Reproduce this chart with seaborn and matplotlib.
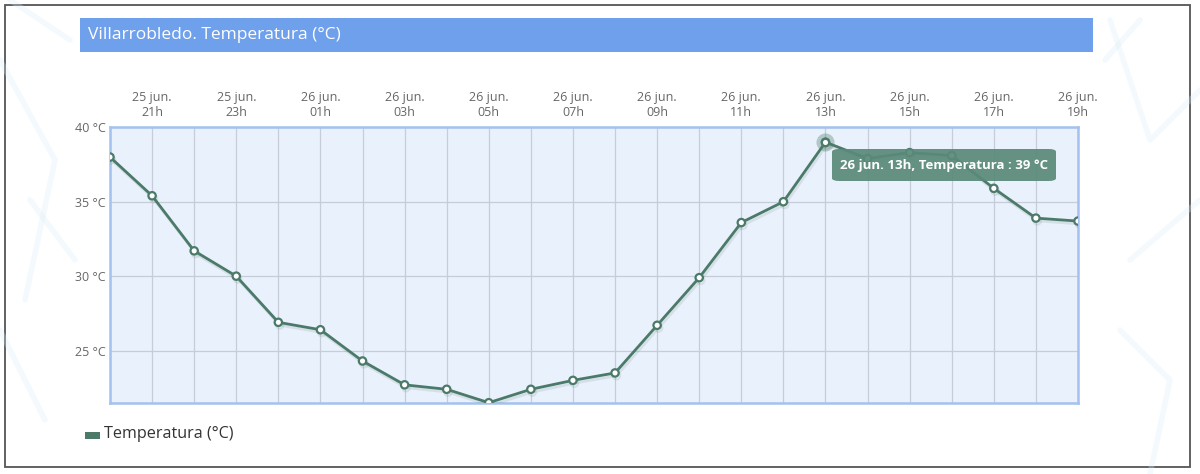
import matplotlib
matplotlib.use("Agg")
import matplotlib.pyplot as plt
import seaborn as sns
import pandas as pd
from matplotlib.patches import Rectangle, FancyBboxPatch
import matplotlib.patheffects as pe

# ---- data ----
days = ["25 jun."] * 4 + ["26 jun."] * 20
hours = ["20h", "21h", "22h", "23h", "00h", "01h", "02h", "03h", "04h", "05h", "06h", "07h",
         "08h", "09h", "10h", "11h", "12h", "13h", "14h", "15h", "16h", "17h", "18h", "19h"]
temps = [38.0, 35.4, 31.7, 30.0, 26.9, 26.4, 24.3, 22.7, 22.4, 21.5, 22.4, 23.0,
         23.5, 26.7, 29.9, 33.6, 35.0, 39.0, 37.9, 38.3, 38.1, 35.9, 33.9, 33.7]
y_ticks = [25, 30, 35, 40]
title = "Villarrobledo. Temperatura (°C)"
series_name = "Temperatura (°C)"
tooltip_idx = 17

df = pd.DataFrame({"i": range(len(temps)), "temp": temps, "day": days, "hour": hours})

sns.set_theme(style="white")
plt.rcParams["font.family"] = ["Open Sans", "DejaVu Sans"]

W, H = 1200, 474
fig = plt.figure(figsize=(W / 100, H / 100), dpi=100)
fig.patch.set_facecolor("white")

# background layer: white card, frame, faint decorative strokes at the sides
deco = fig.add_axes([0, 0, 1, 1], zorder=-5)
deco.set_xlim(0, W)
deco.set_ylim(H, 0)
deco.axis("off")
deco.add_patch(Rectangle((5, 5), 1185, 462, facecolor="white", edgecolor="#555555",
                         linewidth=1.3, zorder=2))
for xs, ys in [([0, 55, 25], [60, 160, 300]), ([0, 45], [330, 420]), ([10, 70], [0, 40]),
               ([30, 75], [200, 260]),
               ([1110, 1150, 1200], [20, 140, 90]), ([1130, 1200], [260, 200]),
               ([1120, 1170, 1150], [330, 380, 474]), ([1105, 1140], [60, 20])]:
    deco.plot(xs, ys, color="#d9eef8", linewidth=4, alpha=0.3, solid_capstyle="round", zorder=2.5)
# title bar
deco.add_patch(Rectangle((80, 18), 1013, 34, facecolor="#6fa0ec", edgecolor="none", zorder=3))
deco.text(88, 35, title, color="white", fontsize=12.5, va="center", ha="left", zorder=4)

ax = fig.add_axes([110 / W, 1 - 402.7 / H, (1078 - 110) / W, (402.7 - 127.3) / H])
ax.set_facecolor("#e9f1fc")

line_color = "#4b7a69"
sns.lineplot(data=df, x="i", y="temp", ax=ax, color=line_color, linewidth=2.0,
             marker="o", markersize=5.3, markerfacecolor="white",
             markeredgecolor=line_color, markeredgewidth=1.6, zorder=5,
             path_effects=[pe.SimpleLineShadow(offset=(1, -2), shadow_color="#5d7a70", alpha=0.15),
                           pe.Normal()])

ax.set_xlim(0, len(temps) - 1)
ax.set_ylim(min(temps), 40)
ax.set_xticks(range(len(temps)), minor=True)
tick_pos = list(range(1, len(temps), 2))
ax.set_xticks(tick_pos)
ax.set_xticklabels([f"{days[i]}\n{hours[i]}" for i in tick_pos])
ax.set_yticks(y_ticks)
ax.set_yticklabels([f"{v} °C" for v in y_ticks])
ax.xaxis.tick_top()
ax.tick_params(axis="x", which="both", length=0, pad=6, labelsize=9, labelcolor="#666666")
ax.tick_params(axis="y", length=0, pad=3, labelsize=9, labelcolor="#666666")
ax.grid(True, which="both", axis="x", color="#c6ccd8", linewidth=0.9)
ax.grid(True, which="major", axis="y", color="#c6ccd8", linewidth=0.9)
ax.set_axisbelow(True)
ax.set_xlabel("")
ax.set_ylabel("")
for s in ax.spines.values():
    s.set_color("#a4c1f0")
    s.set_linewidth(1.8)

# tooltip highlight
ax.scatter([tooltip_idx], [temps[tooltip_idx]], s=170, color=line_color, alpha=0.35,
           zorder=6, linewidths=0)
ax.scatter([tooltip_idx], [temps[tooltip_idx]], s=28, color="white", edgecolors=line_color,
           linewidths=1.6, zorder=7)
tip = f"{days[tooltip_idx]} {hours[tooltip_idx]}, Temperatura : {temps[tooltip_idx]:.0f} °C"
fig.patches.append(FancyBboxPatch((832 / W, 1 - 181 / H), (1056 - 832) / W, (181 - 149) / H,
                                  boxstyle="round,pad=0,rounding_size=0.006",
                                  transform=fig.transFigure, facecolor="#5a8a79",
                                  edgecolor="none", alpha=0.93, zorder=10))
fig.text(944 / W, 1 - 165 / H, tip, color="white", fontsize=9.5, fontweight="bold",
         ha="center", va="center", zorder=11)

# legend
fig.patches.append(Rectangle((85 / W, 1 - 439 / H), 15 / W, 7 / H, transform=fig.transFigure,
                             facecolor=line_color, edgecolor="none", zorder=10))
fig.text(104 / W, 1 - 434 / H, series_name, color="#333333", fontsize=11.6, va="center", ha="left")

fig.savefig("out.png", dpi=100, facecolor="white")
